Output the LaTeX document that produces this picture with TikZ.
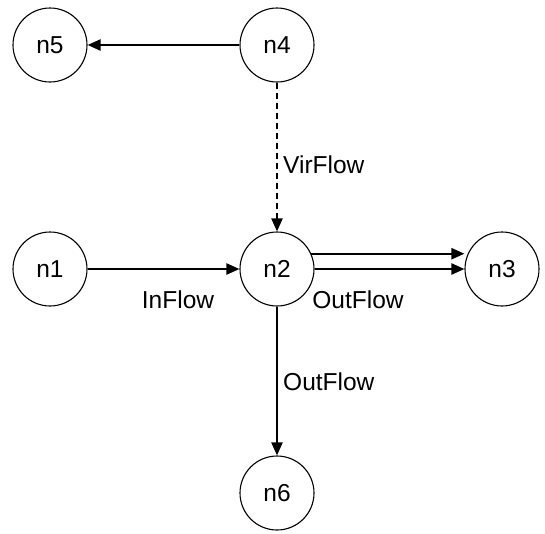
\documentclass[tikz,border=0pt]{standalone}
\usepackage{fontspec}
\setmainfont{Liberation Sans}
\usetikzlibrary{arrows.meta}
\begin{document}
\begin{tikzpicture}[x=1pt,y=-1pt,
  vertex/.style={circle,draw,line width=1.1pt,minimum size=74pt,inner sep=0pt,font=\fontsize{24.5}{26}\selectfont},
  flow/.style={line width=2.2pt,-{Triangle[length=13pt,width=11pt]}},
  lbl/.style={font=\fontsize{24.5}{26}\selectfont,inner sep=0pt}]
\useasboundingbox (0,0) rectangle (545,533);
\node[vertex] (n5) at (50,45) {n5};
\node[vertex] (n4) at (277,45) {n4};
\node[vertex] (n1) at (50,269) {n1};
\node[vertex] (n2) at (277,269) {n2};
\node[vertex] (n3) at (502,269) {n3};
\node[vertex] (n6) at (277,493) {n6};
% edges
\draw[flow] (n4) -- (n5);
\draw[flow,dash pattern=on 6pt off 4pt] (n4) -- (n2);
\draw[flow] (n1) -- (n2);
\draw[flow] (n2.east) -- (n3.west);
\draw[flow] (n2.24) -- (n2.24 -| n3.west);
\draw[flow] (n2) -- (n6);
% labels
\node[lbl,anchor=west] (vl) at (283,165) {VirFlow};
\node[lbl] (il) at (178,300) {InFlow};
\node[lbl] (ol) at (358,300) {OutFlow};
\node[lbl,anchor=west] (dl) at (283,382) {OutFlow};
\end{tikzpicture}
\end{document}
